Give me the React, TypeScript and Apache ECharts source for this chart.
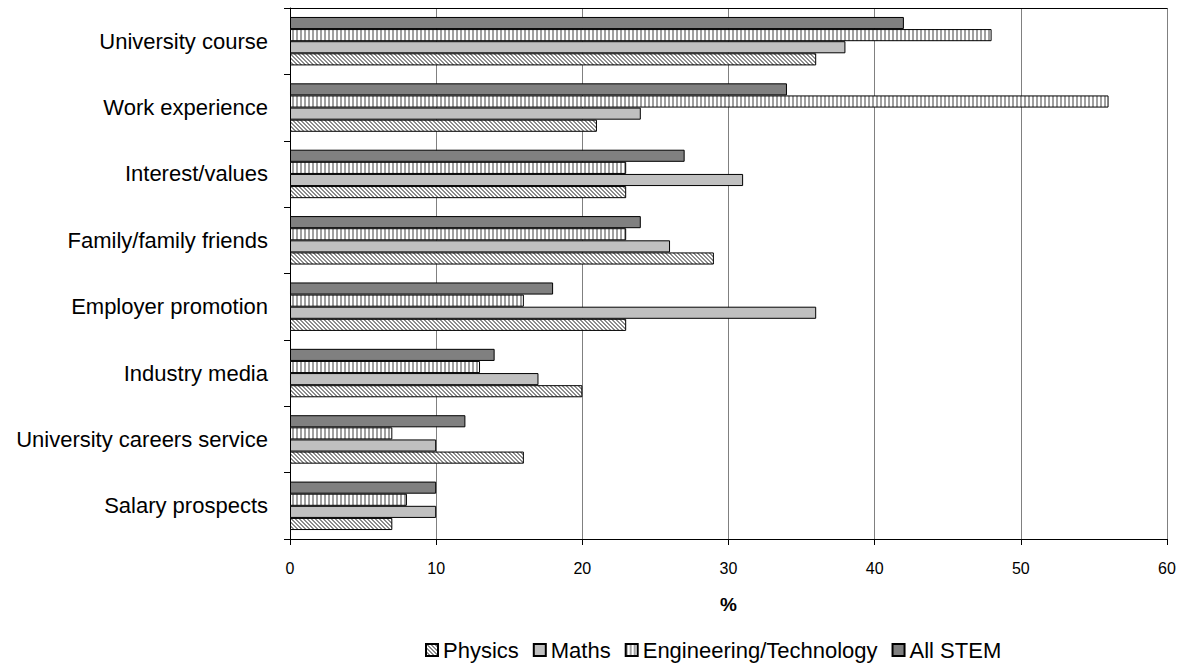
import React, { useEffect, useRef } from "react";
import * as echarts from "echarts";

// Categories listed top to bottom as they appear in the chart
const categories = [
  "University course",
  "Work experience",
  "Interest/values",
  "Family/family friends",
  "Employer promotion",
  "Industry media",
  "University careers service",
  "Salary prospects",
];

const physics = [36, 21, 23, 29, 23, 20, 16, 7];
const maths = [38, 24, 31, 26, 36, 17, 10, 10];
const engineering = [48, 56, 23, 23, 16, 13, 7, 8];
const allStem = [42, 34, 27, 24, 18, 14, 12, 10];

const seriesNames = ["Physics", "Maths", "Engineering/Technology", "All STEM"];
const xTicks = { min: 0, max: 60, interval: 10 };

const FONT = "'Liberation Sans', Arial, Helvetica, sans-serif";

function makeTile(draw: (ctx: CanvasRenderingContext2D) => void, w = 4, h = 4) {
  const c = document.createElement("canvas");
  c.width = w;
  c.height = h;
  const ctx = c.getContext("2d")!;
  ctx.fillStyle = "#ffffff";
  ctx.fillRect(0, 0, w, h);
  draw(ctx);
  return c;
}

export default function App() {
  const ref = useRef<HTMLDivElement>(null);

  useEffect(() => {
    if (!ref.current) return;
    const chart = echarts.init(ref.current, undefined, { renderer: "svg" });

    const diagTile = makeTile((ctx) => {
      ctx.fillStyle = "#8c8c8c";
      for (let y = 0; y < 4; y++) {
        ctx.fillRect(y % 4, y, 1, 1);
        ctx.fillRect((y + 1) % 4, y, 1, 1);
      }
    });
    const vertTile = makeTile((ctx) => {
      ctx.fillStyle = "#a0a0a0";
      ctx.fillRect(0, 0, 2, 4);
    });

    const rev = (a: any[]) => a.slice().reverse();

    const fills: any[] = [
      { image: diagTile, repeat: "repeat" },
      "#c0c0c0",
      { image: vertTile, repeat: "repeat" },
      "#808080",
    ];
    const datas = [physics, maths, engineering, allStem];

    // ECharts puts the first series at the top of each group on a category y-axis,
    // so add series in reverse to put Physics at the bottom, as in the original.
    const series = seriesNames
      .map((name, i) => ({
        name,
        type: "bar",
        xAxisIndex: 0,
        data: rev(datas[i]),
        barGap: "0%",
        barCategoryGap: "27%",
        itemStyle: { color: fills[i], borderColor: "#000", borderWidth: 1 },
        emphasis: { disabled: true },
      }))
      .reverse();

    chart.setOption({
      animation: false,
      textStyle: { fontFamily: FONT },
      grid: { left: 290, right: 17, top: 8, bottom: 126, containLabel: false },
      legend: {
        left: 420,
        top: 634,
        itemWidth: 12,
        itemHeight: 12,
        itemGap: 14,
        icon: "rect",
        textStyle: { fontSize: 22, color: "#000", fontFamily: FONT },
        data: seriesNames,
      },
      xAxis: [
        {
          type: "value",
          position: "bottom",
          min: xTicks.min,
          max: xTicks.max,
          interval: xTicks.interval,
          name: "%",
          nameLocation: "middle",
          nameGap: 56,
          nameTextStyle: { fontSize: 19, fontWeight: "bold", color: "#000", fontFamily: FONT },
          axisLine: { show: true, lineStyle: { color: "#000", width: 1 } },
          axisTick: { show: true, length: 6, lineStyle: { color: "#000" } },
          axisLabel: { fontSize: 16, color: "#000", margin: 21, fontFamily: FONT },
          splitLine: { show: true, lineStyle: { color: "#808080", width: 1 } },
        },
        {
          type: "value",
          position: "top",
          min: xTicks.min,
          max: xTicks.max,
          interval: xTicks.interval,
          axisLine: { show: true, lineStyle: { color: "#000", width: 1 } },
          axisTick: { show: false },
          axisLabel: { show: false },
          splitLine: { show: false },
        },
      ],
      yAxis: {
        type: "category",
        data: rev(categories),
        axisLine: { show: true, lineStyle: { color: "#000", width: 1 } },
        axisTick: { show: true, length: 6, alignWithLabel: false, lineStyle: { color: "#000" } },
        axisLabel: { fontSize: 22, color: "#000", margin: 22, fontFamily: FONT },
        splitLine: { show: false },
      },
      series,
    });

    return () => chart.dispose();
  }, []);

  return (
    <div
      ref={ref}
      style={{ position: "fixed", left: 0, top: 0, width: 1184, height: 665, background: "#fff" }}
    />
  );
}
